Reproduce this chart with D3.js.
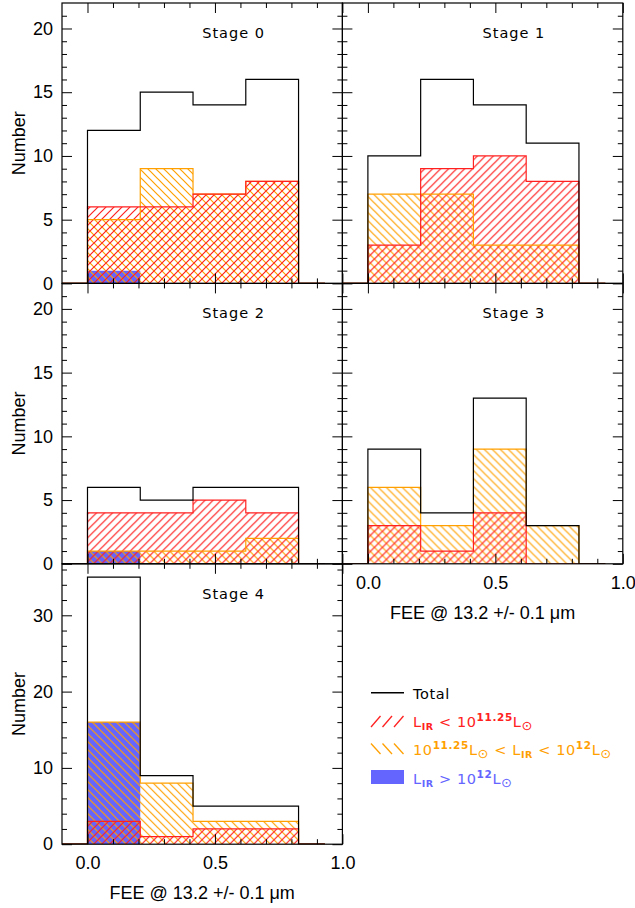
<!DOCTYPE html>
<html>
<head>
<meta charset="utf-8">
<script src="https://cdn.jsdelivr.net/npm/d3@7"></script>
<style>
  body { margin: 0; background: #fff; }
  svg { display: block; }
</style>
</head>
<body>
<div id="chart"></div>
<script>
// histogram data, one row per merger stage, one value per FEE bin
const stageNames = ["Stage 0", "Stage 1", "Stage 2", "Stage 3", "Stage 4"];
const binEdges = [0, 0.207, 0.414, 0.621, 0.828];
const totalCounts = [[12, 15, 14, 16], [10, 16, 14, 11], [6, 5, 6, 6], [9, 4, 13, 3], [35, 9, 5, 5]];
const lowLirCounts = [[6, 6, 7, 8], [3, 9, 10, 8], [4, 4, 5, 4], [3, 1, 4, 0], [3, 1, 2, 2]];
const midLirCounts = [[5, 9, 7, 8], [7, 7, 3, 3], [1, 1, 1, 2], [6, 3, 9, 3], [16, 8, 3, 3]];
const highLirCounts = [[1, 0, 0, 0], [0, 0, 0, 0], [1, 0, 0, 0], [0, 0, 0, 0], [16, 0, 0, 0]];
const yMaxes = [22, 22, 22, 22, 36.75];
const xDomain = [-0.1, 1.0];
const xMajorTicks = [0, 0.5, 1.0];
const xMinorTicks = [0.1, 0.2, 0.3, 0.4, 0.6, 0.7, 0.8, 0.9];
const xTitle = "FEE @ 13.2 +/- 0.1 \u03bcm";

var red = "#ff2020", orange = "#ffa000", blue = "#6464ff";
var tickFont = "'Liberation Sans', Arial, sans-serif";
var labelFont = "'DejaVu Sans', sans-serif";

var margin = { left: 62, top: 3 },
  size = 280.4;

var svg = d3.select("#chart")
  .append("svg")
  .attr("width", 635)
  .attr("height", 908);

svg.append("rect").attr("width", 635).attr("height", 908).attr("fill", "#fff");

var defs = svg.append("defs");

function hatch(id, color, d) {
  defs.append("pattern")
    .attr("id", id)
    .attr("patternUnits", "userSpaceOnUse")
    .attr("width", 8)
    .attr("height", 8)
    .append("path")
    .attr("d", d)
    .attr("stroke", color)
    .attr("stroke-width", 1.2)
    .attr("fill", "none");
}
hatch("hatchRed", red, "M-2,2L2,-2M0,8L8,0M6,10L10,6");
hatch("hatchOrange", orange, "M-2,6L2,10M0,0L8,8M6,-2L10,2");

// step outline of a histogram, optionally running half a bin along the baseline
function stepPoints(counts, extend) {
  var pts = [];
  var n = counts.length;
  var half = (binEdges[1] - binEdges[0]) / 2;
  if (extend) pts.push([binEdges[0] - half, 0]);
  pts.push([binEdges[0], 0]);
  for (var j = 0; j < n; j++) {
    pts.push([binEdges[j], counts[j]]);
    pts.push([binEdges[j + 1], counts[j]]);
  }
  pts.push([binEdges[n], 0]);
  if (extend) pts.push([binEdges[n] + half, 0]);
  return pts;
}

stageNames.forEach(function(name, i) {
  var col = i % 2, row = Math.floor(i / 2);
  var yMax = yMaxes[i];
  var g = svg.append("g")
    .attr("transform", "translate(" + (margin.left + col * size) + "," + (margin.top + row * size) + ")");

  var x = d3.scaleLinear().domain(xDomain).range([0, size]);
  var y = d3.scaleLinear().domain([0, yMax]).range([size, 0]);
  var line = d3.line().x(d => x(d[0])).y(d => y(d[1]));

  g.append("clipPath").attr("id", "clip" + i)
    .append("rect").attr("width", size).attr("height", size);
  var plot = g.append("g").attr("clip-path", "url(#clip" + i + ")");

  // fills: blue solid, orange then red hatching on top
  if (d3.max(highLirCounts[i]) > 0) {
    plot.append("path").attr("d", line(stepPoints(highLirCounts[i], false)))
      .attr("fill", blue).attr("stroke", "none");
  }
  plot.append("path").attr("d", line(stepPoints(midLirCounts[i], false)))
    .attr("fill", "url(#hatchOrange)").attr("stroke", "none");
  plot.append("path").attr("d", line(stepPoints(lowLirCounts[i], false)))
    .attr("fill", "url(#hatchRed)").attr("stroke", "none");

  // outlines
  plot.append("path").attr("d", line(stepPoints(midLirCounts[i], true)))
    .attr("fill", "none").attr("stroke", orange).attr("stroke-width", 1.2);
  plot.append("path").attr("d", line(stepPoints(lowLirCounts[i], true)))
    .attr("fill", "none").attr("stroke", red).attr("stroke-width", 1.2);
  plot.append("path").attr("d", line(stepPoints(totalCounts[i], true)))
    .attr("fill", "none").attr("stroke", "#000").attr("stroke-width", 1.2);

  // axes, ticks pointing inward on all four sides
  var yStep = yMax > 30 ? 10 : 5;
  var yMinorStep = yMax > 30 ? 2 : 1;
  var yMajor = d3.range(0, yMax, yStep);
  var yMinor = d3.range(0, yMax, yMinorStep).filter(v => v % yStep != 0);
  var showY = col == 0;
  var showX = (i == 3 || i == 4);

  function styleAxis(sel) {
    sel.select(".domain").remove();
    sel.selectAll("line").attr("stroke", "#000").attr("stroke-width", 1);
    sel.attr("font-family", tickFont).attr("font-size", 18);
    sel.selectAll("text").attr("fill", "#000");
  }

  g.append("g").call(d3.axisLeft(y).tickValues(yMajor).tickSize(-10).tickPadding(9)
    .tickFormat(showY ? d3.format("d") : () => "")).call(styleAxis);
  g.append("g").call(d3.axisLeft(y).tickValues(yMinor).tickSize(-5).tickFormat(() => "")).call(styleAxis);
  g.append("g").attr("transform", "translate(" + size + ",0)")
    .call(d3.axisRight(y).tickValues(yMajor).tickSize(-10).tickFormat(() => "")).call(styleAxis);
  g.append("g").attr("transform", "translate(" + size + ",0)")
    .call(d3.axisRight(y).tickValues(yMinor).tickSize(-5).tickFormat(() => "")).call(styleAxis);

  g.append("g").attr("transform", "translate(0," + size + ")")
    .call(d3.axisBottom(x).tickValues(xMajorTicks).tickSize(-10).tickPadding(12)
      .tickFormat(showX ? d3.format(".1f") : () => "")).call(styleAxis);
  g.append("g").attr("transform", "translate(0," + size + ")")
    .call(d3.axisBottom(x).tickValues(xMinorTicks).tickSize(-5).tickFormat(() => "")).call(styleAxis);
  g.append("g")
    .call(d3.axisTop(x).tickValues(xMajorTicks).tickSize(-10).tickFormat(() => "")).call(styleAxis);
  g.append("g")
    .call(d3.axisTop(x).tickValues(xMinorTicks).tickSize(-5).tickFormat(() => "")).call(styleAxis);

  g.append("rect")
    .attr("width", size).attr("height", size)
    .attr("fill", "none").attr("stroke", "#000").attr("stroke-width", 1.2);

  g.append("text")
    .attr("x", x(0.45)).attr("y", size * 0.125)
    .attr("font-family", labelFont).attr("font-size", 14.5)
    .attr("letter-spacing", 1)
    .text(name);

  if (showY) {
    g.append("text")
      .attr("transform", "translate(" + (25 - margin.left) + "," + (size / 2) + ") rotate(-90)")
      .attr("text-anchor", "middle")
      .attr("font-family", tickFont).attr("font-size", 18)
      .text("Number");
  }
  if (showX) {
    g.append("text")
      .attr("x", size / 2).attr("y", size + 55)
      .attr("text-anchor", "middle")
      .attr("font-family", tickFont).attr("font-size", 18)
      .text(xTitle);
  }
});

// legend
var legend = svg.append("g")
  .attr("font-family", labelFont).attr("font-size", 14.5).attr("letter-spacing", 0.6);

legend.append("line")
  .attr("x1", 371).attr("x2", 404).attr("y1", 692.7).attr("y2", 692.7)
  .attr("stroke", "#000").attr("stroke-width", 1.5);
legend.append("text").attr("x", 413).attr("y", 698.5).text("Total");

for (var k = 0; k < 3; k++) {
  var x0 = 371 + k * 11.5;
  legend.append("line")
    .attr("x1", x0).attr("y1", 727).attr("x2", x0 + 9.5).attr("y2", 716)
    .attr("stroke", red).attr("stroke-width", 1.3);
  legend.append("line")
    .attr("x1", x0).attr("y1", 743.5).attr("x2", x0 + 9.5).attr("y2", 754)
    .attr("stroke", orange).attr("stroke-width", 1.3);
}
legend.append("rect")
  .attr("x", 371).attr("y", 770).attr("width", 33).attr("height", 14)
  .attr("fill", blue);

function lir(t) {
  t.append("tspan").text("L");
  t.append("tspan").attr("font-size", 9.5).attr("font-weight", "bold").attr("dy", 3).text("IR");
}
function power(t, exp, gap) {
  t.append("tspan").attr("font-size", 14.5).attr("dy", gap).text("10");
  t.append("tspan").attr("font-size", 10.5).attr("font-weight", "bold").attr("dy", -6).text(exp);
  t.append("tspan").attr("font-size", 14.5).attr("dy", 6).text("L");
  t.append("tspan").attr("font-size", 13).attr("dy", 3).text("\u2299");
}

var t1 = legend.append("text").attr("x", 413).attr("y", 727).attr("fill", red);
lir(t1);
t1.append("tspan").attr("dy", -3).text(" < ");
power(t1, "11.25", 0);

var t2 = legend.append("text").attr("x", 413).attr("y", 755).attr("fill", orange);
power(t2, "11.25", 0);
t2.append("tspan").attr("font-size", 14.5).attr("dy", -3).text(" < ");
lir(t2);
t2.append("tspan").attr("font-size", 14.5).attr("dy", -3).text(" < ");
power(t2, "12", 0);

var t3 = legend.append("text").attr("x", 413).attr("y", 784).attr("fill", blue);
lir(t3);
t3.append("tspan").attr("dy", -3).text(" > ");
power(t3, "12", 0);
</script>
</body>
</html>
